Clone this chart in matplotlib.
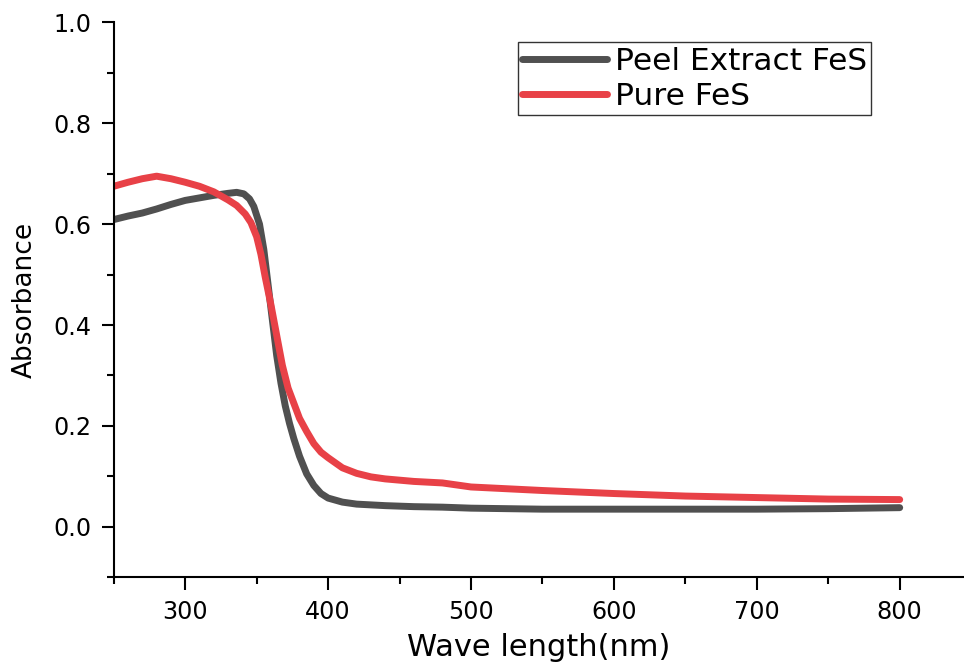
import matplotlib
matplotlib.use('Agg')
import matplotlib.pyplot as plt
from matplotlib.ticker import MultipleLocator

plt.rcParams['font.family'] = ['DejaVu Sans']

# Peel Extract FeS
peel_x = [250, 260, 270, 280, 290, 300, 310, 320, 330, 336, 341, 345, 348, 352, 355, 358,
          361, 364, 367, 370, 373, 376, 380, 385, 390, 395, 400, 410, 420, 440, 460, 480,
          500, 550, 600, 650, 700, 750, 800]
peel_y = [0.609, 0.616, 0.622, 0.630, 0.639, 0.647, 0.652, 0.657, 0.661, 0.663, 0.660, 0.650,
          0.635, 0.600, 0.550, 0.480, 0.410, 0.340, 0.285, 0.240, 0.205, 0.175, 0.140, 0.105,
          0.082, 0.066, 0.057, 0.049, 0.045, 0.042, 0.040, 0.039, 0.037, 0.035, 0.035, 0.035,
          0.035, 0.036, 0.038]

# Pure FeS
pure_x = [250, 260, 270, 280, 290, 300, 310, 320, 330, 336, 342, 346, 350, 353, 356, 360,
          364, 368, 372, 376, 380, 385, 390, 395, 400, 410, 420, 430, 440, 460, 480, 490,
          500, 550, 600, 650, 700, 750, 800]
pure_y = [0.675, 0.683, 0.690, 0.695, 0.690, 0.683, 0.675, 0.664, 0.648, 0.637, 0.620, 0.603,
          0.575, 0.540, 0.495, 0.440, 0.380, 0.320, 0.275, 0.245, 0.215, 0.189, 0.165, 0.148,
          0.137, 0.117, 0.106, 0.099, 0.095, 0.090, 0.087, 0.083, 0.079, 0.072, 0.066, 0.061,
          0.058, 0.055, 0.054]

fig = plt.figure(figsize=(9.64, 6.64), dpi=100)
ax = fig.add_axes([0.118, 0.1306, 0.882, 0.8358])

ax.plot(peel_x, peel_y, color='#505050', lw=5, solid_capstyle='round', label='Peel Extract FeS')
ax.plot(pure_x, pure_y, color='#e84147', lw=5, solid_capstyle='round', label='Pure FeS')

ax.set_xlim(250, 845)
ax.set_ylim(-0.1, 1.0)
ax.xaxis.set_minor_locator(MultipleLocator(50))
ax.yaxis.set_minor_locator(MultipleLocator(0.1))
ax.set_yticks([0.0, 0.2, 0.4, 0.6, 0.8, 1.0])
ax.set_xticks([300, 400, 500, 600, 700, 800])

ax.spines['top'].set_visible(False)
ax.spines['right'].set_visible(False)
for s in ['left', 'bottom']:
    ax.spines[s].set_linewidth(1.5)

ax.tick_params(which='major', direction='out', length=9, width=1.5, labelsize=17.2, pad=7)
ax.tick_params(which='minor', direction='out', length=5, width=1.5)

ax.set_xlabel('Wave length(nm)', fontsize=22, labelpad=7)
ax.set_ylabel('Absorbance', fontsize=19, labelpad=11)

leg = ax.legend(loc='upper left', bbox_to_anchor=(0.537, 0.937), bbox_transform=fig.transFigure,
                fontsize=22.5, frameon=True, fancybox=False, borderaxespad=0, borderpad=0.15,
                labelspacing=0.2, handlelength=2.7, handletextpad=0.25)
leg.get_frame().set_edgecolor('black')
leg.get_frame().set_linewidth(1.0)

fig.savefig('out.png', dpi=100)
